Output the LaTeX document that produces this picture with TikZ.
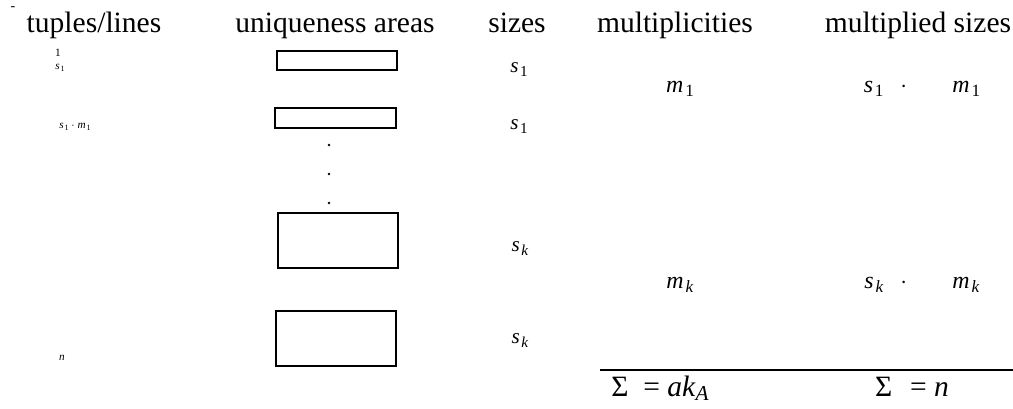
\documentclass[tikz,border=0pt]{standalone}
\usepackage{fontspec}
\setmainfont{Liberation Serif}
\usepackage{graphicx}
\usepackage{tikz}

% italic letter with a lowered index
\newcommand{\ivar}[2]{\textit{#1}\kern0.08em\raisebox{-0.42ex}{\scalebox{0.72}{#2}}}

\begin{document}
\begin{tikzpicture}[x=0.025cm, y=-0.025cm, inner sep=0pt, line width=1.2pt,
    head/.style={font=\fontsize{21}{21}\selectfont, anchor=base},
    tiny/.style={font=\fontsize{8}{8}\selectfont, anchor=base},
    size/.style={font=\fontsize{15}{15}\selectfont, anchor=base},
    mult/.style={font=\fontsize{17}{17}\selectfont, anchor=base},
    total/.style={font=\fontsize{21}{21}\selectfont, anchor=base},
    area/.style={draw}]
        \useasboundingbox (0,0) rectangle (1013,408);

        % Define column heads
        \node[font=\fontsize{10}{10}\selectfont] (mark) at (13,9) {-};
        \node[head] (h_tuples) at (94,32) {tuples/lines};
        \node[head] (h_areas) at (335,32) {uniqueness areas};
        \node[head] (h_sizes) at (517,32) {sizes};
        \node[head] (h_mult) at (675,32) {multiplicities};
        \node[head] (h_msizes) at (918,32) {multiplied sizes};

        % Draw the tuple numbers
        \node[tiny] (t_one) at (58,56) {1};
        \node[tiny] (t_s1) at (60,69) {\ivar{s}{1}};
        \node[tiny] (t_s1m1) at (75,128) {\ivar{s}{1} $\cdot$ \ivar{m}{1}};
        \node[tiny] (t_n) at (62,360) {\textit{n}};

        % Draw the uniqueness areas
        \draw[area] (277,51) rectangle (397,70);
        \draw[area] (275,108) rectangle (396,128);
        \draw[area] (278,213) rectangle (398,268);
        \draw[area] (276,311) rectangle (396,366);
        \foreach \y in {145,174,203}
            \fill (329,\y) circle (1.3);

        % Draw the sizes
        \node[size] (s_a) at (519,72) {\ivar{s}{1}};
        \node[size] (s_b) at (519,129) {\ivar{s}{1}};
        \node[size] (s_c) at (520,251) {\ivar{s}{\textit{k}}};
        \node[size] (s_d) at (520,343) {\ivar{s}{\textit{k}}};

        % Draw multiplicities and multiplied sizes
        \node[mult] (m_one) at (680,92) {\ivar{m}{1}};
        \node[mult] (m_k) at (680,288) {\ivar{m}{\textit{k}}};
        \node[mult] (p_one) at (922,92) {\ivar{s}{1}\hspace{0.7em}$\cdot$\hspace{1.9em}\ivar{m}{1}};
        \node[mult] (p_k) at (922,288) {\ivar{s}{\textit{k}}\hspace{0.7em}$\cdot$\hspace{1.9em}\ivar{m}{\textit{k}}};

        % Draw the sum line
        \coordinate (sum_left) at (600,370);
        \coordinate (sum_right) at (1013,370);
        \draw[line width=0.8pt] (sum_left) -- (sum_right);
        \node[total] (sum_a) at (660,396) {Σ\hspace{0.5em}= \textit{ak}\raisebox{-0.35ex}{\scalebox{0.72}{\textit{A}}}};
        \node[total] (sum_n) at (912,396) {Σ\hspace{0.6em}= \textit{n}};
      \end{tikzpicture}
\end{document}
